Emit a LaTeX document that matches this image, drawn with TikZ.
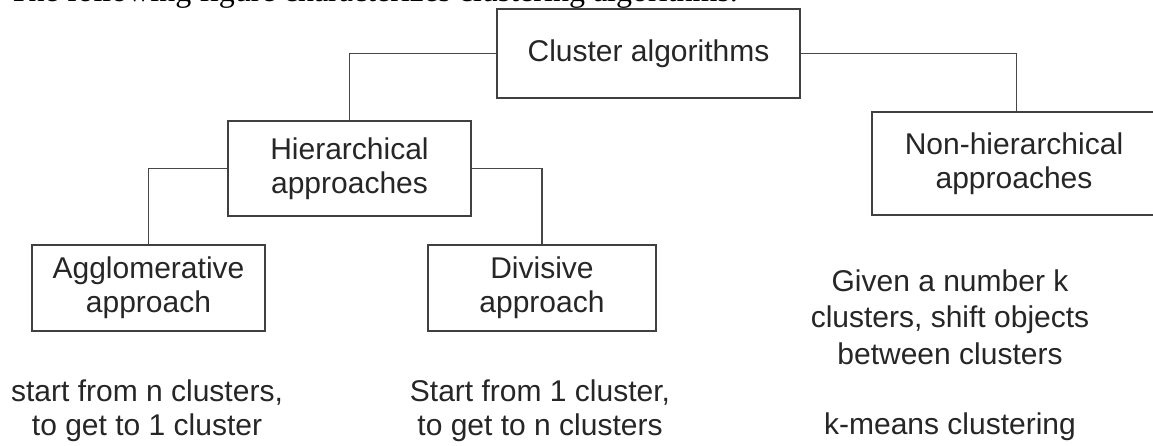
\documentclass[tikz,border=0pt]{standalone}
\usepackage{fontspec}
\setmainfont{Liberation Sans}
\newfontfamily\captionserif{Liberation Serif}
\begin{document}
\begin{tikzpicture}[x=1pt,y=-1pt,
  box/.style={draw=black!75,line width=1.8pt,inner sep=0pt,align=center,
    font=\fontsize{30}{34}\selectfont,text=black!85},
  note/.style={inner sep=0pt,align=center,font=\fontsize{30}{34}\selectfont,text=black!85},
  widenote/.style={note,font=\fontsize{30}{36.5}\selectfont},
  link/.style={draw=black!72,line width=1.7pt}]
  \useasboundingbox (0,0) rectangle (1153,445);
  \clip (0,0) rectangle (1153,445);

  % running text above the chart
  \node[anchor=base east,inner sep=0pt,font=\captionserif\fontsize{32}{36}\selectfont]
    (capt) at (738,1) {The following figure characterizes clustering algorithms.};

  % boxes
  \node[box,minimum width=303pt,minimum height=89pt] (clu) at (648.5,53.5) {Cluster algorithms};
  \node[box,minimum width=243pt,minimum height=95pt] (hier) at (349.5,168.5) {Hierarchical\\approaches};
  \node[box,minimum width=289pt,minimum height=103pt] (non) at (1016.5,163.5) {\hspace*{-5pt}Non-hierarchical\\\hspace*{-5pt}approaches};
  \node[box,minimum width=233pt,minimum height=86pt] (agg) at (148.5,288) {Agglomerative\\approach};
  \node[box,minimum width=228pt,minimum height=86pt] (div) at (542,288) {Divisive\\approach};

  % descriptions
  \node[note] (aggtxt) at (147,411) {start from n clusters,\\to get to 1 cluster};
  \node[note] (divtxt) at (540,411) {Start from 1 cluster,\\to get to n clusters};
  \node[widenote] (nontxt) at (950,317) {Given a number k\\clusters, shift objects\\between clusters};
  \node[note] (kmeans) at (950,427) {k-means clustering};

  % tree connectors
  \draw[link] (clu.west) -| (hier.north);
  \draw[link] (clu.east) -| (non.north);
  \draw[link] (hier.west) -| (agg.north);
  \draw[link] (hier.east) -| (div.north);
\end{tikzpicture}
\end{document}
